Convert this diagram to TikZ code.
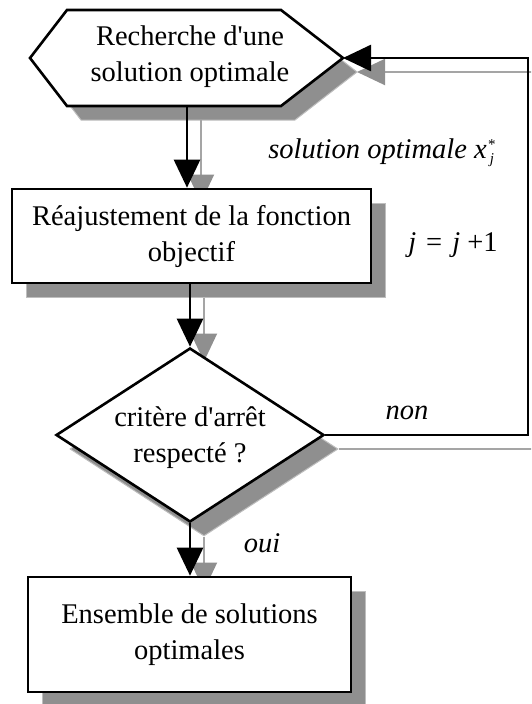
\documentclass[tikz,border=0pt]{standalone}
\usepackage{fontspec}
\setmainfont{Liberation Serif}[Ligatures=TeXOff]
\usetikzlibrary{arrows.meta,shapes.geometric,calc}
\definecolor{shgray}{RGB}{143,143,143}
\definecolor{shedge}{RGB}{190,190,190}
\definecolor{lgray}{RGB}{165,165,165}
\begin{document}
\begin{tikzpicture}[x=1pt,y=-1pt,
  txt/.style={font=\fontsize{28.5}{36}\selectfont, align=center, inner sep=0pt},
  lbl/.style={font=\fontsize{28.5}{34}\selectfont\itshape, inner sep=0pt},
  boxnode/.style={draw=black, line width=2.6pt, fill=white, inner sep=0pt, txt},
  shbox/.style={fill=shgray, draw=shedge, line width=1pt, inner sep=0pt},
  blk/.style={line width=2.6pt, -{Triangle[length=28pt,width=26pt]}},
  gry/.style={draw=lgray, line width=2pt, -{Triangle[length=28pt,width=26pt,color=shgray,fill=shgray]}}]
\useasboundingbox (0,0) rectangle (531,704);
\clip (0,0) rectangle (531,704);
% ---------- shadows ----------
\begin{scope}[shift={(14,14)}]
  \draw[shbox] (30,58) -- (67,10) -- (281,10) -- (343,58) -- (281,106) -- (67,106) -- cycle;
  \coordinate (hBs) at (187,106);
  \coordinate (hRs) at (343,58);
\end{scope}
\coordinate (rts) at (542,72);
\node[shbox, minimum width=359pt, minimum height=94pt] (b1s) at (205.5,250) {};
\node[shbox, diamond, minimum width=268pt, minimum height=174pt] (decs) at (204,449) {};
\node[shbox, minimum width=323pt, minimum height=115pt] (b3s) at (203.5,648.5) {};
% ---------- shadow connectors ----------
\draw[gry] (hBs) -- (hBs |- b1s.north);
\draw[gry] (decs.north |- b1s.south) -- (decs.north);
\draw[gry] (decs.south) -- (decs.south |- b3s.north);
\draw[gry] (decs.east) -| (rts) -- (hRs);
% ---------- main shapes ----------
\coordinate (hL) at (30,58);
\coordinate (hR) at (343,58);
\coordinate (hB) at (187,106);
\coordinate (rt) at (528,58);
\draw[line width=2.6pt, fill=white, line join=miter] (hL) -- (67,10) -- (281,10) -- (hR) -- (281,106) -- (67,106) -- cycle;
\node[txt] (hex) at (190,57) {Recherche d'une\\solution optimale};
\node[boxnode, minimum width=359pt, minimum height=94pt] (b1) at (191.5,236) {Réajustement de la fonction\\objectif};
\node[diamond, draw=black, fill=white, line width=2.6pt, inner sep=0pt, minimum width=268pt, minimum height=174pt] (dec) at (190,435) {};
\node[txt] (dect) at (190,437.5) {critère d'arrêt\\respecté ?};
\node[boxnode, minimum width=323pt, minimum height=115pt] (b3) at (189.5,634.5) {Ensemble de solutions\\optimales};
% ---------- connectors ----------
\draw[blk] (hB) -- (hB |- b1.north);
\draw[blk] (dec.north |- b1.south) -- (dec.north);
\draw[blk] (dec.south) -- (dec.south |- b3.north);
\draw[blk, line join=miter] (dec.east) -| (rt) -- (hR);
% ---------- labels ----------
\node[lbl] (lsol) at (382,153) {solution optimale x\hspace{0.05em}\raisebox{0.05em}{\fontsize{15}{12}\selectfont\begin{tabular}[c]{@{}c@{}}\upshape *\\[1pt]j\end{tabular}}};
\node[txt] (leq) at (453,245) {\textit{j}\hspace{0.35em}=\hspace{0.35em}\textit{j}\hspace{0.25em}+1};
\node[lbl] (lnon) at (407,413) {non};
\node[lbl] (loui) at (262,543) {oui};
\end{tikzpicture}
\end{document}
